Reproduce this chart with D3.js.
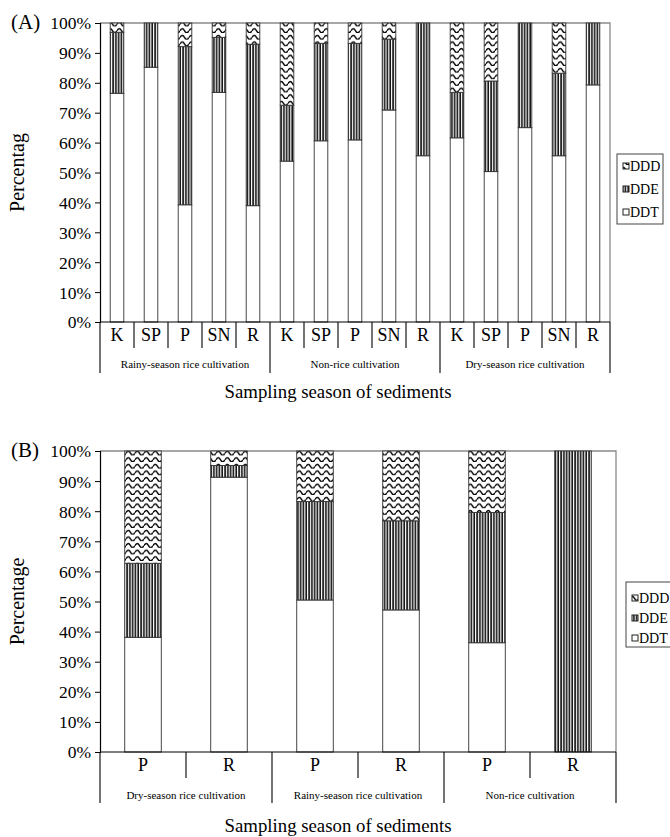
<!DOCTYPE html>
<html>
<head>
<meta charset="utf-8">
<script src="https://cdn.jsdelivr.net/npm/d3@7"></script>
<style>
  html, body { margin: 0; padding: 0; background: #fff; }
  svg { display: block; }
  svg text { font-family: "Liberation Serif", "Times New Roman", serif; fill: #000; }
</style>
</head>
<body>
<svg id="chart" width="670" height="837"></svg>
<script>
// ---- Panel A: composition per site and season ----
const sitesA = ["K", "SP", "P", "SN", "R", "K", "SP", "P", "SN", "R", "K", "SP", "P", "SN", "R"];
const groupsA = ["Rainy-season rice cultivation", "Non-rice cultivation", "Dry-season rice cultivation"];
const ddtA = [76.5, 85.2, 39.2, 76.8, 38.9, 53.8, 60.6, 60.9, 70.9, 55.6, 61.6, 50.3, 65.0, 55.6, 79.3];
const ddeA = [20.4, 14.8, 52.9, 18.4, 54.0, 18.7, 32.6, 32.3, 23.7, 44.4, 15.2, 30.3, 35.0, 27.6, 20.7];
const dddA = [3.1, 0, 7.9, 4.8, 7.1, 27.5, 6.8, 6.8, 5.4, 0, 23.2, 19.4, 0, 16.8, 0];

// ---- Panel B ----
const sitesB = ["P", "R", "P", "R", "P", "R"];
const groupsB = ["Dry-season rice cultivation", "Rainy-season rice cultivation", "Non-rice cultivation"];
const ddtB = [38.1, 91.3, 50.5, 47.2, 36.3, 0];
const ddeB = [24.6, 3.9, 32.7, 29.6, 43.3, 100];
const dddB = [37.3, 4.8, 16.8, 23.2, 20.4, 0];

const yTicks = [0, 10, 20, 30, 40, 50, 60, 70, 80, 90, 100];
const seriesKeys = ["DDT", "DDE", "DDD"];
const legendOrder = ["DDD", "DDE", "DDT"];
const FONT = "Liberation Serif, Times New Roman, serif";

const svg = d3.select("#chart");

// Fill patterns: plain, vertical stripes, waves
const defs = svg.append("defs");
const stripe = defs.append("pattern").attr("id", "pat-dde")
  .attr("patternUnits", "userSpaceOnUse").attr("width", 2.8).attr("height", 10);
stripe.append("rect").attr("width", 2.8).attr("height", 10).attr("fill", "#fff");
stripe.append("rect").attr("x", 0.3).attr("width", 1.5).attr("height", 10).attr("fill", "#000");

const wave = defs.append("pattern").attr("id", "pat-ddd")
  .attr("patternUnits", "userSpaceOnUse").attr("width", 9).attr("height", 6.6);
wave.append("rect").attr("width", 9).attr("height", 6.6).attr("fill", "#fff");
wave.append("path").attr("d", "M0,4.4 Q2.25,0.4 4.5,4.4 T9,4.4")
  .attr("fill", "none").attr("stroke", "#000").attr("stroke-width", 1.35);

const fills = { DDT: "#fff", DDE: "url(#pat-dde)", DDD: "url(#pat-ddd)" };

function panel(cfg) {
  const { sites, groups, ddt, dde, ddd, x0, x1, yTop, yBot, pad, label, yTitle,
          catRow, grpRow, subFont, grpFont, titleY, legend } = cfg;
  const g = svg.append("g");

  const rows = sites.map((s, i) => ({ key: i, DDT: ddt[i], DDE: dde[i], DDD: ddd[i] }));
  const x = d3.scaleBand().domain(rows.map(r => r.key)).range([x0, x1])
    .paddingInner(pad).paddingOuter(pad / 2);
  const y = d3.scaleLinear().domain([0, 100]).range([yBot, yTop]);

  // frame: top and right in grey
  g.append("path")
    .attr("d", `M${x0},${yTop}H${x1}V${yBot}`)
    .attr("fill", "none").attr("stroke", "#8a8a8a").attr("stroke-width", 1.3);

  // stacked bars
  const stack = d3.stack().keys(seriesKeys)(rows);
  stack.forEach(layer => {
    g.append("g").selectAll("rect").data(layer.filter(d => d[1] - d[0] > 0)).join("rect")
      .attr("x", d => x(d.data.key))
      .attr("width", x.bandwidth())
      .attr("y", d => y(Math.min(d[1], 100)))
      .attr("height", d => y(d[0]) - y(Math.min(d[1], 100)))
      .attr("fill", fills[layer.key])
      .attr("stroke", "#333").attr("stroke-width", 0.9);
  });

  // y axis
  const yAxis = d3.axisLeft(y).tickValues(yTicks).tickFormat(d => d + "%")
    .tickSize(5).tickPadding(4);
  const ya = g.append("g").attr("transform", `translate(${x0},0)`).call(yAxis)
    .attr("font-family", FONT).attr("font-size", 17.5);
  ya.select(".domain").attr("stroke", "#000").attr("stroke-width", 1.2);
  ya.selectAll(".tick line").attr("stroke", "#000");
  ya.selectAll("text").attr("fill", "#000").attr("dy", "0.34em");

  // baseline
  g.append("line").attr("x1", x0).attr("x2", x1).attr("y1", yBot).attr("y2", yBot)
    .attr("stroke", "#000").attr("stroke-width", 1.2);

  // category separators and group separators
  const step = x.step();
  const per = sites.length / groups.length;
  for (let i = 0; i <= sites.length; i++) {
    const xx = x0 + i * step;
    const isGroup = i % per === 0;
    g.append("line").attr("x1", xx).attr("x2", xx)
      .attr("y1", yBot).attr("y2", isGroup ? grpRow[1] : catRow)
      .attr("stroke", "#000").attr("stroke-width", 1.1);
  }
  g.selectAll("text.site").data(sites).join("text").attr("class", "site")
    .attr("x", (d, i) => x0 + (i + 0.5) * step)
    .attr("y", (yBot + catRow) / 2 + subFont * 0.33)
    .attr("text-anchor", "middle").attr("font-size", subFont).text(d => d);
  g.selectAll("text.grp").data(groups).join("text").attr("class", "grp")
    .attr("x", (d, i) => x0 + (i + 0.5) * per * step)
    .attr("y", grpRow[0])
    .attr("text-anchor", "middle").attr("font-size", grpFont).text(d => d);

  // panel tag and titles
  g.append("text").attr("x", 11).attr("y", yTop + 6).attr("font-size", 21).text(label);
  g.append("text")
    .attr("transform", `translate(${cfg.yTitleX},${(yTop + yBot) / 2}) rotate(-90)`)
    .attr("text-anchor", "middle").attr("font-size", 20).text(yTitle);
  g.append("text").attr("x", 338).attr("y", titleY)
    .attr("text-anchor", "middle").attr("font-size", 18.8).text("Sampling season of sediments");

  // legend
  const lg = g.append("g");
  lg.append("rect").attr("x", legend.x).attr("y", legend.y)
    .attr("width", legend.w).attr("height", legend.h)
    .attr("fill", "#fff").attr("stroke", "#444").attr("stroke-width", 1);
  legendOrder.forEach((k, i) => {
    const cy = legend.y + legend.first + i * legend.gap;
    lg.append("rect").attr("x", legend.x + 6).attr("y", cy - 3)
      .attr("width", 6).attr("height", 6).attr("fill", fills[k])
      .attr("stroke", "#222").attr("stroke-width", 1);
    lg.append("text").attr("x", legend.x + 13).attr("y", cy + 4.6)
      .attr("font-size", 14).text(k);
  });
}

panel({
  sites: sitesA, groups: groupsA, ddt: ddtA, dde: ddeA, ddd: dddA,
  x0: 100, x1: 610, yTop: 23, yBot: 322, pad: 0.6,
  label: "(A)", yTitle: "Percentag", yTitleX: 24,
  catRow: 348, grpRow: [367.5, 373], subFont: 18, grpFont: 11, titleY: 398,
  legend: { x: 617, y: 154, w: 46, h: 70, first: 12, gap: 23 }
});

panel({
  sites: sitesB, groups: groupsB, ddt: ddtB, dde: ddeB, ddd: dddB,
  x0: 100, x1: 616, yTop: 451, yBot: 752, pad: 0.575,
  label: "(B)", yTitle: "Percentage", yTitleX: 24,
  catRow: 778, grpRow: [799, 803], subFont: 18, grpFont: 11, titleY: 832,
  legend: { x: 626, y: 582, w: 50, h: 65, first: 16, gap: 20 }
});
</script>
</body>
</html>
